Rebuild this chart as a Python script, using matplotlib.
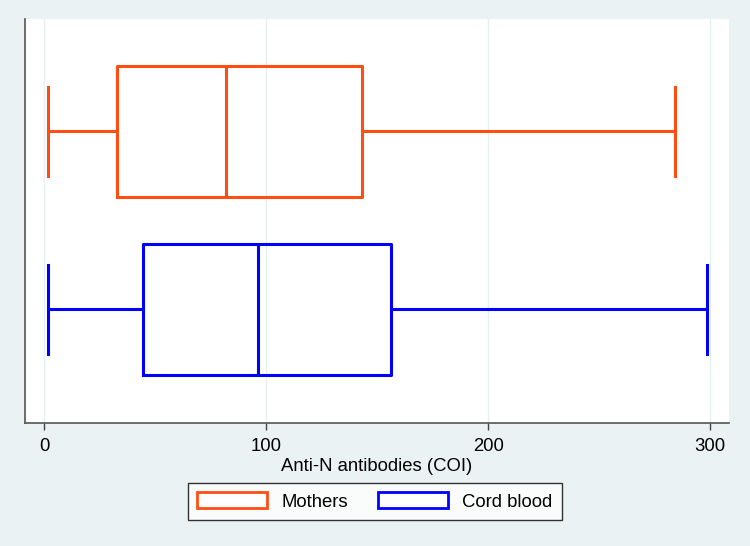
import matplotlib.pyplot as plt
from matplotlib.patches import Patch

plt.rcParams['font.family'] = ['Liberation Sans', 'DejaVu Sans']

# box plot summary values
groups = ["Cord blood", "Mothers"]
whis_lo = [1.7, 1.5]
q1 = [44.5, 32.7]
medians = [96.3, 81.8]
q3 = [156.2, 143.2]
whis_hi = [298.5, 284.4]
colors = ["#0000FF", "#FF4E14"]
xticks = [0, 100, 200, 300]

bg = "#EAF2F3"
fig = plt.figure(figsize=(7.5, 5.46), dpi=100, facecolor=bg)
ax = fig.add_axes([0.0333, 0.2253, 0.9387, 0.7399])

stats = []
for i in range(len(groups)):
    stats.append(dict(label=groups[i], med=medians[i], q1=q1[i], q3=q3[i],
                      whislo=whis_lo[i], whishi=whis_hi[i], fliers=[]))

for i, s in enumerate(stats):
    c = colors[i]
    ax.bxp([s], positions=[i + 1], vert=False, widths=0.736, showfliers=False,
           boxprops=dict(color=c, linewidth=2.2),
           medianprops=dict(color=c, linewidth=2.2),
           whiskerprops=dict(color=c, linewidth=2.2),
           capprops=dict(color=c, linewidth=2.2),
           capwidths=0.5)

ax.set_xlim(-8.8, 308.6)
ax.set_ylim(0.362, 2.632)
ax.set_yticks([])
ax.set_xticks(xticks)
ax.set_xticklabels([str(t) for t in xticks])
ax.tick_params(axis='x', direction='out', length=5, width=1, color='#444444',
               labelsize=13.3, pad=6)
ax.grid(axis='x', color='#E8EFF1', linewidth=1)
ax.set_axisbelow(True)
for side in ['top', 'right']:
    ax.spines[side].set_visible(False)
for side in ['left', 'bottom']:
    ax.spines[side].set_color('#555555')
    ax.spines[side].set_linewidth(1.2)
ax.set_xlabel("Anti-N antibodies (COI)", fontsize=13.3, labelpad=2)

handles = [Patch(facecolor='white', edgecolor=colors[1], linewidth=2, label="Mothers"),
           Patch(facecolor='white', edgecolor=colors[0], linewidth=2, label="Cord blood")]
leg = fig.legend(handles=handles, loc='center', bbox_to_anchor=(0.5, 0.0815),
                 ncol=2, fontsize=13.3, frameon=True, fancybox=False,
                 handlelength=3.75, handleheight=0.95, handletextpad=0.8,
                 columnspacing=1.65, borderpad=0.5)
leg.get_frame().set_edgecolor('black')
leg.get_frame().set_linewidth(1)
leg.get_frame().set_facecolor('white')

fig.savefig("out.png", dpi=100, facecolor=bg)
